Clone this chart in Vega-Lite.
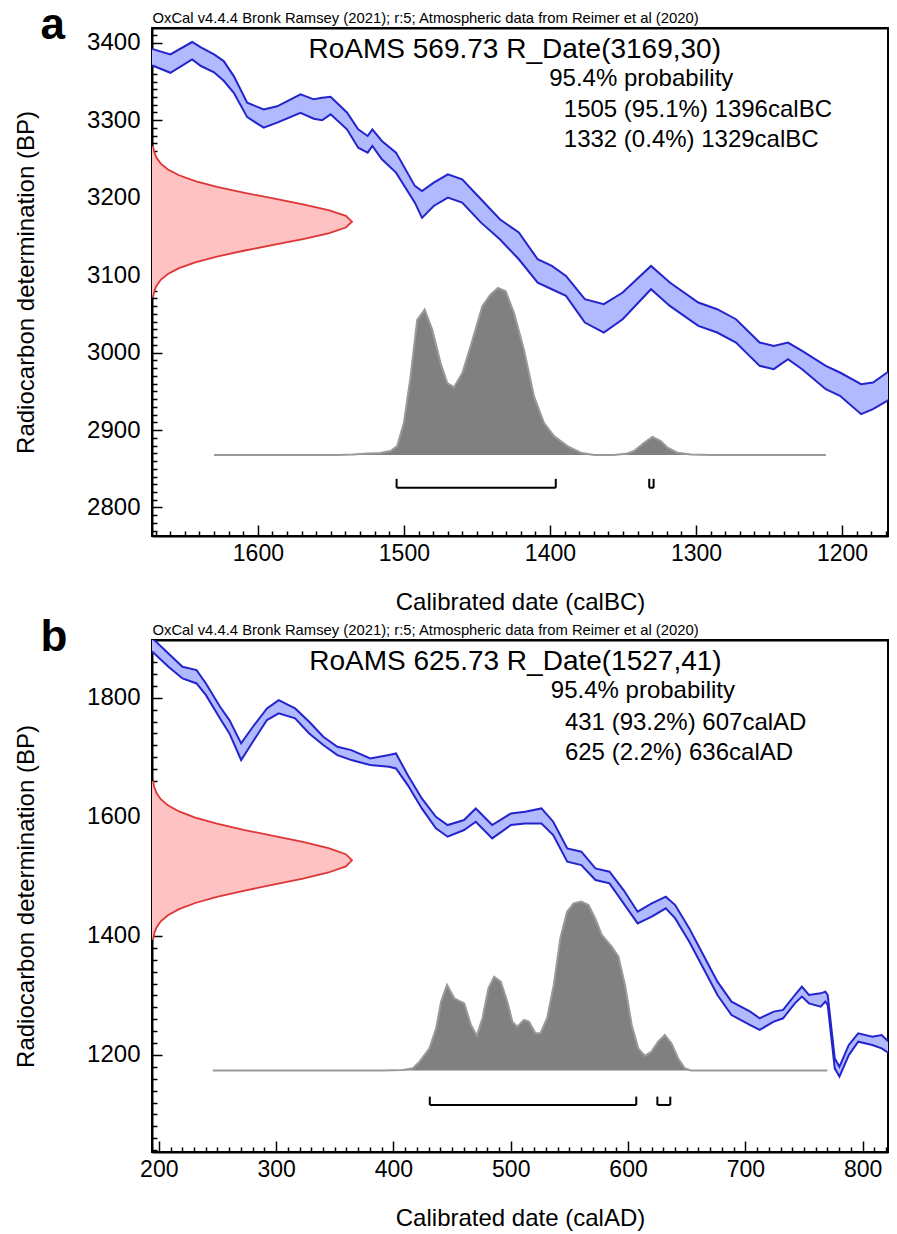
{
  "$schema": "https://vega.github.io/schema/vega-lite/v6.json",
  "background": "white",
  "padding": {"left": 13, "top": 3, "right": 9, "bottom": 2},
  "spacing": 0,
  "config": {"font": "Liberation Sans", "view": {"stroke": "black", "strokeWidth": 2}},
  "datasets": {
    "curveA": [
      {"year": 1673, "hi": 3392, "lo": 3371}, {"year": 1671.3, "hi": 3391.5, "lo": 3370}, {"year": 1659.9, "hi": 3385, "lo": 3361.3},
      {"year": 1645, "hi": 3401, "lo": 3378.6}, {"year": 1639, "hi": 3394, "lo": 3370}, {"year": 1630, "hi": 3385, "lo": 3362},
      {"year": 1623.4, "hi": 3376.4, "lo": 3351}, {"year": 1616.5, "hi": 3357, "lo": 3335.5}, {"year": 1607.3, "hi": 3322.6, "lo": 3304},
      {"year": 1596, "hi": 3314, "lo": 3290.4}, {"year": 1586.8, "hi": 3318, "lo": 3297}, {"year": 1570.8, "hi": 3333.5, "lo": 3309.7},
      {"year": 1561.7, "hi": 3327, "lo": 3302}, {"year": 1556, "hi": 3329, "lo": 3300}, {"year": 1550.2, "hi": 3330.4, "lo": 3307.6},
      {"year": 1539, "hi": 3310, "lo": 3288.3}, {"year": 1531.3, "hi": 3288.3, "lo": 3264.6}, {"year": 1524.8, "hi": 3279.7, "lo": 3258.2},
      {"year": 1521.6, "hi": 3288.3, "lo": 3266.8}, {"year": 1515.1, "hi": 3273.2, "lo": 3249.6}, {"year": 1505.4, "hi": 3258.2, "lo": 3232.4},
      {"year": 1492.5, "hi": 3215.2, "lo": 3193.6}, {"year": 1487.6, "hi": 3208.7, "lo": 3174}, {"year": 1479.6, "hi": 3219.4, "lo": 3189.3},
      {"year": 1469.9, "hi": 3230.2, "lo": 3200.1}, {"year": 1460.1, "hi": 3223.7, "lo": 3193.6}, {"year": 1447.2, "hi": 3198, "lo": 3167.8},
      {"year": 1434.3, "hi": 3172.1, "lo": 3146.3}, {"year": 1421.3, "hi": 3155, "lo": 3120.5}, {"year": 1408.4, "hi": 3120.5, "lo": 3090.4},
      {"year": 1398.7, "hi": 3111.9, "lo": 3081.8}, {"year": 1389, "hi": 3099, "lo": 3073.2}, {"year": 1376.1, "hi": 3068.9, "lo": 3038.8},
      {"year": 1363.1, "hi": 3062.5, "lo": 3025.9}, {"year": 1350.2, "hi": 3077.5, "lo": 3043.1}, {"year": 1330.8, "hi": 3111.9, "lo": 3081.8},
      {"year": 1317.9, "hi": 3090.4, "lo": 3060.3}, {"year": 1298.4, "hi": 3064.6, "lo": 3034.5}, {"year": 1285.5, "hi": 3056, "lo": 3025.9},
      {"year": 1272.6, "hi": 3043.1, "lo": 3013}, {"year": 1256.4, "hi": 3013, "lo": 2982.9}, {"year": 1246.7, "hi": 3008.7, "lo": 2978.6},
      {"year": 1237, "hi": 3013, "lo": 2991.5}, {"year": 1227.3, "hi": 3002.3, "lo": 2978.6}, {"year": 1211.1, "hi": 2982.9, "lo": 2952.8},
      {"year": 1201.4, "hi": 2974.3, "lo": 2944.2}, {"year": 1186.9, "hi": 2959.2, "lo": 2920.5}, {"year": 1178.8, "hi": 2961.4, "lo": 2927},
      {"year": 1169.1, "hi": 2974.3, "lo": 2937.7}, {"year": 1167, "hi": 2977, "lo": 2940}
    ],
    "curveB": [
      {"year": 194, "hi": 1900, "lo": 1878}, {"year": 196.2, "hi": 1896.8, "lo": 1874.4}, {"year": 208.2, "hi": 1874.4, "lo": 1852},
      {"year": 220.2, "hi": 1852, "lo": 1832.4}, {"year": 232.2, "hi": 1846.4, "lo": 1824}, {"year": 240.2, "hi": 1824, "lo": 1804.4},
      {"year": 252.2, "hi": 1784.9, "lo": 1765.3}, {"year": 260.2, "hi": 1762.5, "lo": 1740.1}, {"year": 270.2, "hi": 1723.3, "lo": 1695.4},
      {"year": 280.2, "hi": 1751.3, "lo": 1726.1}, {"year": 292.2, "hi": 1782.1, "lo": 1762.5}, {"year": 302.2, "hi": 1796, "lo": 1773.7},
      {"year": 316.2, "hi": 1782.1, "lo": 1765.3}, {"year": 328.2, "hi": 1759.7, "lo": 1740.1}, {"year": 340.2, "hi": 1734.5, "lo": 1720.5},
      {"year": 352.2, "hi": 1717.7, "lo": 1703.7}, {"year": 364.2, "hi": 1712.1, "lo": 1695.3}, {"year": 380.2, "hi": 1698.1, "lo": 1686.9},
      {"year": 396.2, "hi": 1703.7, "lo": 1684.1}, {"year": 402.2, "hi": 1706.5, "lo": 1681.3}, {"year": 412.2, "hi": 1670.1, "lo": 1653.3},
      {"year": 424.2, "hi": 1630.9, "lo": 1614.1}, {"year": 436.2, "hi": 1600.1, "lo": 1580.6}, {"year": 446.2, "hi": 1586.2, "lo": 1566.6},
      {"year": 460.2, "hi": 1594.6, "lo": 1577.8}, {"year": 470.2, "hi": 1614.1, "lo": 1591.8}, {"year": 484.2, "hi": 1586.2, "lo": 1563.8},
      {"year": 500.2, "hi": 1605.7, "lo": 1586.2}, {"year": 512.2, "hi": 1608.5, "lo": 1588.9}, {"year": 526.2, "hi": 1614.1, "lo": 1588.9},
      {"year": 536.2, "hi": 1591.8, "lo": 1569.4}, {"year": 548.2, "hi": 1547, "lo": 1524.6}, {"year": 560.2, "hi": 1541.4, "lo": 1519},
      {"year": 572.2, "hi": 1513.4, "lo": 1493.8}, {"year": 584.2, "hi": 1507.8, "lo": 1488.2}, {"year": 596.2, "hi": 1477, "lo": 1454.6},
      {"year": 608.2, "hi": 1440.6, "lo": 1421}, {"year": 620.2, "hi": 1454.6, "lo": 1432.2}, {"year": 632.2, "hi": 1465.8, "lo": 1446.2},
      {"year": 640.2, "hi": 1451.8, "lo": 1429.4}, {"year": 652.2, "hi": 1412.6, "lo": 1390.2}, {"year": 664.2, "hi": 1367.9, "lo": 1345.5},
      {"year": 676.2, "hi": 1323.1, "lo": 1300.7}, {"year": 688.2, "hi": 1289.5, "lo": 1267.1}, {"year": 704.2, "hi": 1272.8, "lo": 1250.3},
      {"year": 712.2, "hi": 1261.6, "lo": 1242.1}, {"year": 724.2, "hi": 1272.8, "lo": 1255.9}, {"year": 732.2, "hi": 1275.6, "lo": 1261.6},
      {"year": 742.2, "hi": 1300.7, "lo": 1286.7}, {"year": 748.2, "hi": 1314.7, "lo": 1298}, {"year": 754.2, "hi": 1300.7, "lo": 1286.7},
      {"year": 764.2, "hi": 1303.5, "lo": 1281.1}, {"year": 768.2, "hi": 1306.3, "lo": 1289.5}, {"year": 770.2, "hi": 1300.7, "lo": 1284},
      {"year": 776.2, "hi": 1194.3, "lo": 1177.5}, {"year": 780.2, "hi": 1180.3, "lo": 1163.6}, {"year": 788.2, "hi": 1216.8, "lo": 1199.8},
      {"year": 796.2, "hi": 1236.3, "lo": 1222.3}, {"year": 808.2, "hi": 1230.7, "lo": 1216.8}, {"year": 816.2, "hi": 1233.5, "lo": 1211.1},
      {"year": 822.2, "hi": 1222.3, "lo": 1203.1}
    ],
    "greyA": [
      {"year": 1630, "p": 0}, {"year": 1545, "p": 0}, {"year": 1535, "p": 0.004}, {"year": 1525, "p": 0.01}, {"year": 1516, "p": 0.012},
      {"year": 1509.1, "p": 0.024}, {"year": 1504.6, "p": 0.054}, {"year": 1500, "p": 0.193}, {"year": 1495.4, "p": 0.47},
      {"year": 1490.9, "p": 0.809}, {"year": 1485.8, "p": 0.87}, {"year": 1480.6, "p": 0.75}, {"year": 1474.9, "p": 0.55},
      {"year": 1470.3, "p": 0.43}, {"year": 1465.7, "p": 0.406}, {"year": 1460, "p": 0.49}, {"year": 1454.3, "p": 0.65},
      {"year": 1446.3, "p": 0.89}, {"year": 1440.6, "p": 0.96}, {"year": 1435.6, "p": 1.0}, {"year": 1430.3, "p": 0.98},
      {"year": 1424.6, "p": 0.849}, {"year": 1417.8, "p": 0.63}, {"year": 1410.9, "p": 0.351}, {"year": 1404.1, "p": 0.193},
      {"year": 1397.2, "p": 0.114}, {"year": 1388.1, "p": 0.054}, {"year": 1378.9, "p": 0.014}, {"year": 1369.8, "p": 0},
      {"year": 1356.1, "p": 0}, {"year": 1347, "p": 0.01}, {"year": 1342.4, "p": 0.024}, {"year": 1335.5, "p": 0.074},
      {"year": 1329.8, "p": 0.108}, {"year": 1324.1, "p": 0.084}, {"year": 1319.5, "p": 0.044}, {"year": 1312.7, "p": 0.014},
      {"year": 1303.5, "p": 0.004}, {"year": 1290, "p": 0}, {"year": 1211, "p": 0}
    ],
    "greyB": [
      {"year": 246, "p": 0}, {"year": 391, "p": 0}, {"year": 408.1, "p": 0.004}, {"year": 416.6, "p": 0.014}, {"year": 422.3, "p": 0.053},
      {"year": 430.7, "p": 0.132}, {"year": 436.4, "p": 0.25}, {"year": 440.6, "p": 0.408}, {"year": 445.7, "p": 0.507},
      {"year": 451.9, "p": 0.428}, {"year": 460.4, "p": 0.398}, {"year": 466.1, "p": 0.27}, {"year": 471.1, "p": 0.207},
      {"year": 475.9, "p": 0.31}, {"year": 481, "p": 0.487}, {"year": 485.8, "p": 0.556}, {"year": 491.5, "p": 0.527},
      {"year": 497.1, "p": 0.408}, {"year": 501.4, "p": 0.29}, {"year": 505.6, "p": 0.26}, {"year": 511.3, "p": 0.3},
      {"year": 515.5, "p": 0.29}, {"year": 521.1, "p": 0.221}, {"year": 525.4, "p": 0.221}, {"year": 531, "p": 0.31},
      {"year": 536.7, "p": 0.507}, {"year": 542.3, "p": 0.783}, {"year": 548, "p": 0.94}, {"year": 553.6, "p": 0.99},
      {"year": 560.1, "p": 1.0}, {"year": 566.3, "p": 0.98}, {"year": 572, "p": 0.9}, {"year": 577.6, "p": 0.803},
      {"year": 586.1, "p": 0.734}, {"year": 591.8, "p": 0.675}, {"year": 597.4, "p": 0.507}, {"year": 603.1, "p": 0.27},
      {"year": 608.7, "p": 0.132}, {"year": 614.4, "p": 0.087}, {"year": 620, "p": 0.112}, {"year": 625.7, "p": 0.172},
      {"year": 631.3, "p": 0.211}, {"year": 637, "p": 0.162}, {"year": 642.6, "p": 0.073}, {"year": 648.3, "p": 0.014},
      {"year": 653.9, "p": 0}, {"year": 770, "p": 0}
    ],
    "redA": [
      {"bp": 3266.5, "p": 0.0051}, {"bp": 3259, "p": 0.0111}, {"bp": 3251.5, "p": 0.0228}, {"bp": 3244, "p": 0.0439},
      {"bp": 3236.5, "p": 0.0796}, {"bp": 3229, "p": 0.1353}, {"bp": 3221.5, "p": 0.2163}, {"bp": 3214, "p": 0.3247},
      {"bp": 3206.5, "p": 0.4578}, {"bp": 3199, "p": 0.6065}, {"bp": 3191.5, "p": 0.7548}, {"bp": 3184, "p": 0.8825},
      {"bp": 3176.5, "p": 0.9692}, {"bp": 3169, "p": 1}, {"bp": 3161.5, "p": 0.9692}, {"bp": 3154, "p": 0.8825},
      {"bp": 3146.5, "p": 0.7548}, {"bp": 3139, "p": 0.6065}, {"bp": 3131.5, "p": 0.4578}, {"bp": 3124, "p": 0.3247},
      {"bp": 3116.5, "p": 0.2163}, {"bp": 3109, "p": 0.1353}, {"bp": 3101.5, "p": 0.0796}, {"bp": 3094, "p": 0.0439},
      {"bp": 3086.5, "p": 0.0228}, {"bp": 3079, "p": 0.0111}, {"bp": 3071.5, "p": 0.0051}
    ],
    "redB": [
      {"bp": 1660.25, "p": 0.0051}, {"bp": 1650, "p": 0.0111}, {"bp": 1639.75, "p": 0.0228}, {"bp": 1629.5, "p": 0.0439},
      {"bp": 1619.25, "p": 0.0796}, {"bp": 1609, "p": 0.1353}, {"bp": 1598.75, "p": 0.2163}, {"bp": 1588.5, "p": 0.3247},
      {"bp": 1578.25, "p": 0.4578}, {"bp": 1568, "p": 0.6065}, {"bp": 1557.75, "p": 0.7548}, {"bp": 1547.5, "p": 0.8825},
      {"bp": 1537.25, "p": 0.9692}, {"bp": 1527, "p": 1}, {"bp": 1516.75, "p": 0.9692}, {"bp": 1506.5, "p": 0.8825},
      {"bp": 1496.25, "p": 0.7548}, {"bp": 1486, "p": 0.6065}, {"bp": 1475.75, "p": 0.4578}, {"bp": 1465.5, "p": 0.3247},
      {"bp": 1455.25, "p": 0.2163}, {"bp": 1445, "p": 0.1353}, {"bp": 1434.75, "p": 0.0796}, {"bp": 1424.5, "p": 0.0439},
      {"bp": 1414.25, "p": 0.0228}, {"bp": 1404, "p": 0.0111}, {"bp": 1393.75, "p": 0.0051}
    ],
    "rangesA": [{"from": 1505, "to": 1396}, {"from": 1332, "to": 1329}],
    "rangesB": [{"from": 431, "to": 607}, {"from": 625, "to": 636}],
    "textA": [
      {"kind": "head", "label": "RoAMS 569.73 R_Date(3169,30)", "year": 1565.3, "bp": 3380},
      {"kind": "line", "label": "95.4% probability", "year": 1400.5, "bp": 3344},
      {"kind": "line", "label": "1505 (95.1%) 1396calBC", "year": 1390.5, "bp": 3304.5},
      {"kind": "line", "label": "1332 (0.4%) 1329calBC", "year": 1390.5, "bp": 3266}
    ],
    "textB": [
      {"kind": "head", "label": "RoAMS 625.73 R_Date(1527,41)", "year": 328.2, "bp": 1846.5},
      {"kind": "line", "label": "95.4% probability", "year": 534.2, "bp": 1799.5},
      {"kind": "line", "label": "431 (93.2%) 607calAD", "year": 546.2, "bp": 1745.8},
      {"kind": "line", "label": "625 (2.2%) 636calAD", "year": 546.2, "bp": 1695.4}
    ]
  },
  "vconcat": [
    {
      "width": 736,
      "height": 508,
      "title": {"text": "a", "anchor": "start", "frame": "bounds", "fontSize": 44, "fontWeight": "bold", "color": "black", "baseline": "alphabetic", "offset": -73, "dx": 26},
      "layer": [
        {
          "data": {"name": "curveA"},
          "mark": {"type": "area", "color": "#b1b9ff", "opacity": 1, "clip": true},
          "encoding": {
            "x": {"field": "year", "type": "quantitative", "scale": {"domain": [1168.5, 1672.5], "reverse": true, "nice": false, "zero": false},
              "axis": {"orient": "bottom", "values": [1170,1180,1190,1200,1210,1220,1230,1240,1250,1260,1270,1280,1290,1300,1310,1320,1330,1340,1350,1360,1370,1380,1390,1400,1410,1420,1430,1440,1450,1460,1470,1480,1490,1500,1510,1520,1530,1540,1550,1560,1570,1580,1590,1600,1610,1620,1630,1640,1650,1660,1670],
                "format": "d", "labelExpr": "datum.value % 100 === 0 ? datum.label : ''",
                "tickSize": {"condition": {"test": "datum.value % 100 === 0", "value": -11}, "value": -5},
                "tickColor": "black", "tickWidth": 1.5, "domainColor": "black", "domainWidth": 2,
                "labelFontSize": 23, "labelColor": "black", "labelPadding": 17, "labelOverlap": false, "labelFlush": false,
                "title": "Calibrated date (calBC)", "titleFontSize": 24, "titleFontWeight": "normal", "titleColor": "black", "titlePadding": 19, "grid": false}},
            "y": {"field": "lo", "type": "quantitative", "scale": {"domain": [2763.2, 3419.1], "nice": false, "zero": false},
              "axis": {"orient": "left", "values": [2770,2780,2790,2800,2810,2820,2830,2840,2850,2860,2870,2880,2890,2900,2910,2920,2930,2940,2950,2960,2970,2980,2990,3000,3010,3020,3030,3040,3050,3060,3070,3080,3090,3100,3110,3120,3130,3140,3150,3160,3170,3180,3190,3200,3210,3220,3230,3240,3250,3260,3270,3280,3290,3300,3310,3320,3330,3340,3350,3360,3370,3380,3390,3400,3410],
                "format": "d", "labelExpr": "datum.value % 100 === 0 ? datum.label : ''",
                "tickSize": {"condition": {"test": "datum.value % 100 === 0", "value": -10}, "value": -5},
                "tickColor": "black", "tickWidth": 1.5, "domainColor": "black", "domainWidth": 2,
                "labelFontSize": 24, "labelColor": "black", "labelPadding": 22, "labelOverlap": false,
                "title": "Radiocarbon determination (BP)", "titleFontSize": 24, "titleFontWeight": "normal", "titleColor": "black", "titlePadding": 48, "grid": false}},
            "y2": {"field": "hi"}
          }
        },
        {
          "data": {"name": "curveA"},
          "mark": {"type": "line", "color": "#2424cc", "strokeWidth": 2, "clip": true},
          "encoding": {
            "x": {"field": "year", "type": "quantitative", "scale": {"domain": [1168.5, 1672.5], "reverse": true, "nice": false, "zero": false},
              "axis": {"orient": "top", "ticks": false, "labels": false, "domain": true, "domainColor": "black", "domainWidth": 2,
                "title": "OxCal v4.4.4 Bronk Ramsey (2021); r:5; Atmospheric data from Reimer et al (2020)",
                "titleAnchor": "end", "titleAlign": "left", "titleFontSize": 14.8, "titleFontWeight": "normal", "titleColor": "black", "titlePadding": 3, "grid": false}},
            "y": {"field": "hi", "type": "quantitative", "scale": {"domain": [2763.2, 3419.1], "nice": false, "zero": false}, "axis": null}
          }
        },
        {
          "data": {"name": "curveA"},
          "mark": {"type": "line", "color": "#2424cc", "strokeWidth": 2, "clip": true},
          "encoding": {
            "x": {"field": "year", "type": "quantitative", "scale": {"domain": [1168.5, 1672.5], "reverse": true, "nice": false, "zero": false}, "axis": null},
            "y": {"field": "lo", "type": "quantitative", "scale": {"domain": [2763.2, 3419.1], "nice": false, "zero": false}, "axis": null}
          }
        },
        {
          "data": {"name": "rangesA"},
          "mark": {"type": "rule", "color": "black", "strokeWidth": 2},
          "encoding": {
            "x": {"field": "from", "type": "quantitative", "scale": {"domain": [1168.5, 1672.5], "reverse": true, "nice": false, "zero": false}, "axis": null},
            "x2": {"field": "to"},
            "y": {"datum": 2825.5, "type": "quantitative", "scale": {"domain": [2763.2, 3419.1], "nice": false, "zero": false}, "axis": null}
          }
        },
        {
          "data": {"name": "rangesA"},
          "mark": {"type": "rule", "color": "black", "strokeWidth": 2},
          "encoding": {
            "x": {"field": "from", "type": "quantitative", "scale": {"domain": [1168.5, 1672.5], "reverse": true, "nice": false, "zero": false}, "axis": null},
            "y": {"datum": 2825.5, "type": "quantitative", "scale": {"domain": [2763.2, 3419.1], "nice": false, "zero": false}, "axis": null},
            "y2": {"datum": 2837}
          }
        },
        {
          "data": {"name": "rangesA"},
          "mark": {"type": "rule", "color": "black", "strokeWidth": 2},
          "encoding": {
            "x": {"field": "to", "type": "quantitative", "scale": {"domain": [1168.5, 1672.5], "reverse": true, "nice": false, "zero": false}, "axis": null},
            "y": {"datum": 2825.5, "type": "quantitative", "scale": {"domain": [2763.2, 3419.1], "nice": false, "zero": false}, "axis": null},
            "y2": {"datum": 2837}
          }
        },
        {
          "data": {"name": "textA"},
          "transform": [{"filter": "datum.kind === 'head'"}],
          "mark": {"type": "text", "align": "left", "baseline": "alphabetic", "fontSize": 28, "color": "black"},
          "encoding": {
            "x": {"field": "year", "type": "quantitative", "scale": {"domain": [1168.5, 1672.5], "reverse": true, "nice": false, "zero": false}, "axis": null},
            "y": {"field": "bp", "type": "quantitative", "scale": {"domain": [2763.2, 3419.1], "nice": false, "zero": false}, "axis": null},
            "text": {"field": "label"}
          }
        },
        {
          "data": {"name": "textA"},
          "transform": [{"filter": "datum.kind === 'line'"}],
          "mark": {"type": "text", "align": "left", "baseline": "alphabetic", "fontSize": 24, "color": "black"},
          "encoding": {
            "x": {"field": "year", "type": "quantitative", "scale": {"domain": [1168.5, 1672.5], "reverse": true, "nice": false, "zero": false}, "axis": null},
            "y": {"field": "bp", "type": "quantitative", "scale": {"domain": [2763.2, 3419.1], "nice": false, "zero": false}, "axis": null},
            "text": {"field": "label"}
          }
        },
        {
          "data": {"name": "redA"},
          "mark": {"type": "area", "orient": "horizontal", "color": "#ffc2c2", "opacity": 1, "clip": true},
          "encoding": {
            "y": {"field": "bp", "type": "quantitative", "scale": {"domain": [2763.2, 3419.1], "nice": false, "zero": false}, "axis": null},
            "x": {"field": "p", "type": "quantitative", "scale": {"domain": [0, 3.68], "nice": false, "zero": false}, "axis": null},
            "x2": {"datum": 0}
          }
        },
        {
          "data": {"name": "redA"},
          "mark": {"type": "line", "color": "#de3535", "strokeWidth": 1.8, "clip": true},
          "encoding": {
            "y": {"field": "bp", "type": "quantitative", "scale": {"domain": [2763.2, 3419.1], "nice": false, "zero": false}, "axis": null},
            "x": {"field": "p", "type": "quantitative", "scale": {"domain": [0, 3.68], "nice": false, "zero": false}, "axis": null},
            "order": {"field": "bp", "type": "quantitative"}
          }
        },
        {
          "data": {"name": "greyA"},
          "mark": {"type": "area", "color": "#808080", "opacity": 1, "line": {"color": "#9a9a9a", "strokeWidth": 2}, "clip": true},
          "encoding": {
            "x": {"field": "year", "type": "quantitative", "scale": {"domain": [1168.5, 1672.5], "reverse": true, "nice": false, "zero": false}, "axis": null},
            "y": {"field": "p", "type": "quantitative", "scale": {"domain": [-0.4839, 2.5538], "nice": false, "zero": false}, "axis": null},
            "y2": {"datum": 0}
          }
        }
      ],
      "resolve": {"scale": {"x": "independent", "y": "independent"}}
    },
    {
      "width": 736,
      "height": 512,
      "title": {"text": "b", "anchor": "start", "frame": "bounds", "fontSize": 44, "fontWeight": "bold", "color": "black", "baseline": "alphabetic", "offset": -73, "dx": 26},
      "layer": [
        {
          "data": {"name": "curveB"},
          "mark": {"type": "area", "color": "#b1b9ff", "opacity": 1, "clip": true},
          "encoding": {
            "x": {"field": "year", "type": "quantitative", "scale": {"domain": [194.2, 821.6], "nice": false, "zero": false},
              "axis": {"orient": "bottom", "values": [200,210,220,230,240,250,260,270,280,290,300,310,320,330,340,350,360,370,380,390,400,410,420,430,440,450,460,470,480,490,500,510,520,530,540,550,560,570,580,590,600,610,620,630,640,650,660,670,680,690,700,710,720,730,740,750,760,770,780,790,800,810,820],
                "format": "d", "labelExpr": "datum.value % 100 === 0 ? datum.label : ''",
                "tickSize": {"condition": {"test": "datum.value % 100 === 0", "value": -11}, "value": -5},
                "tickColor": "black", "tickWidth": 1.5, "domainColor": "black", "domainWidth": 2,
                "labelFontSize": 23, "labelColor": "black", "labelPadding": 17, "labelOverlap": false, "labelFlush": false,
                "title": "Calibrated date (calAD)", "titleFontSize": 24, "titleFontWeight": "normal", "titleColor": "black", "titlePadding": 19, "grid": false}},
            "y": {"field": "lo", "type": "quantitative", "scale": {"domain": [1037, 1897], "nice": false, "zero": false},
              "axis": {"orient": "left", "values": [1040,1060,1080,1100,1120,1140,1160,1180,1200,1220,1240,1260,1280,1300,1320,1340,1360,1380,1400,1420,1440,1460,1480,1500,1520,1540,1560,1580,1600,1620,1640,1660,1680,1700,1720,1740,1760,1780,1800,1820,1840,1860,1880],
                "format": "d", "labelExpr": "datum.value % 200 === 0 ? datum.label : ''",
                "tickSize": {"condition": {"test": "datum.value % 200 === 0", "value": -10}, "value": -5},
                "tickColor": "black", "tickWidth": 1.5, "domainColor": "black", "domainWidth": 2,
                "labelFontSize": 24, "labelColor": "black", "labelPadding": 22, "labelOverlap": false,
                "title": "Radiocarbon determination (BP)", "titleFontSize": 24, "titleFontWeight": "normal", "titleColor": "black", "titlePadding": 48, "grid": false}},
            "y2": {"field": "hi"}
          }
        },
        {
          "data": {"name": "curveB"},
          "mark": {"type": "line", "color": "#2424cc", "strokeWidth": 2, "clip": true},
          "encoding": {
            "x": {"field": "year", "type": "quantitative", "scale": {"domain": [194.2, 821.6], "nice": false, "zero": false},
              "axis": {"orient": "top", "ticks": false, "labels": false, "domain": true, "domainColor": "black", "domainWidth": 2,
                "title": "OxCal v4.4.4 Bronk Ramsey (2021); r:5; Atmospheric data from Reimer et al (2020)",
                "titleAnchor": "start", "titleAlign": "left", "titleFontSize": 14.8, "titleFontWeight": "normal", "titleColor": "black", "titlePadding": 3, "grid": false}},
            "y": {"field": "hi", "type": "quantitative", "scale": {"domain": [1037, 1897], "nice": false, "zero": false}, "axis": null}
          }
        },
        {
          "data": {"name": "curveB"},
          "mark": {"type": "line", "color": "#2424cc", "strokeWidth": 2, "clip": true},
          "encoding": {
            "x": {"field": "year", "type": "quantitative", "scale": {"domain": [194.2, 821.6], "nice": false, "zero": false}, "axis": null},
            "y": {"field": "lo", "type": "quantitative", "scale": {"domain": [1037, 1897], "nice": false, "zero": false}, "axis": null}
          }
        },
        {
          "data": {"name": "rangesB"},
          "mark": {"type": "rule", "color": "black", "strokeWidth": 2},
          "encoding": {
            "x": {"field": "from", "type": "quantitative", "scale": {"domain": [194.2, 821.6], "nice": false, "zero": false}, "axis": null},
            "x2": {"field": "to"},
            "y": {"datum": 1116, "type": "quantitative", "scale": {"domain": [1037, 1897], "nice": false, "zero": false}, "axis": null}
          }
        },
        {
          "data": {"name": "rangesB"},
          "mark": {"type": "rule", "color": "black", "strokeWidth": 2},
          "encoding": {
            "x": {"field": "from", "type": "quantitative", "scale": {"domain": [194.2, 821.6], "nice": false, "zero": false}, "axis": null},
            "y": {"datum": 1116, "type": "quantitative", "scale": {"domain": [1037, 1897], "nice": false, "zero": false}, "axis": null},
            "y2": {"datum": 1130}
          }
        },
        {
          "data": {"name": "rangesB"},
          "mark": {"type": "rule", "color": "black", "strokeWidth": 2},
          "encoding": {
            "x": {"field": "to", "type": "quantitative", "scale": {"domain": [194.2, 821.6], "nice": false, "zero": false}, "axis": null},
            "y": {"datum": 1116, "type": "quantitative", "scale": {"domain": [1037, 1897], "nice": false, "zero": false}, "axis": null},
            "y2": {"datum": 1130}
          }
        },
        {
          "data": {"name": "textB"},
          "transform": [{"filter": "datum.kind === 'head'"}],
          "mark": {"type": "text", "align": "left", "baseline": "alphabetic", "fontSize": 28, "color": "black"},
          "encoding": {
            "x": {"field": "year", "type": "quantitative", "scale": {"domain": [194.2, 821.6], "nice": false, "zero": false}, "axis": null},
            "y": {"field": "bp", "type": "quantitative", "scale": {"domain": [1037, 1897], "nice": false, "zero": false}, "axis": null},
            "text": {"field": "label"}
          }
        },
        {
          "data": {"name": "textB"},
          "transform": [{"filter": "datum.kind === 'line'"}],
          "mark": {"type": "text", "align": "left", "baseline": "alphabetic", "fontSize": 24, "color": "black"},
          "encoding": {
            "x": {"field": "year", "type": "quantitative", "scale": {"domain": [194.2, 821.6], "nice": false, "zero": false}, "axis": null},
            "y": {"field": "bp", "type": "quantitative", "scale": {"domain": [1037, 1897], "nice": false, "zero": false}, "axis": null},
            "text": {"field": "label"}
          }
        },
        {
          "data": {"name": "redB"},
          "mark": {"type": "area", "orient": "horizontal", "color": "#ffc2c2", "opacity": 1, "clip": true},
          "encoding": {
            "y": {"field": "bp", "type": "quantitative", "scale": {"domain": [1037, 1897], "nice": false, "zero": false}, "axis": null},
            "x": {"field": "p", "type": "quantitative", "scale": {"domain": [0, 3.68], "nice": false, "zero": false}, "axis": null},
            "x2": {"datum": 0}
          }
        },
        {
          "data": {"name": "redB"},
          "mark": {"type": "line", "color": "#de3535", "strokeWidth": 1.8, "clip": true},
          "encoding": {
            "y": {"field": "bp", "type": "quantitative", "scale": {"domain": [1037, 1897], "nice": false, "zero": false}, "axis": null},
            "x": {"field": "p", "type": "quantitative", "scale": {"domain": [0, 3.68], "nice": false, "zero": false}, "axis": null},
            "order": {"field": "bp", "type": "quantitative"}
          }
        },
        {
          "data": {"name": "greyB"},
          "mark": {"type": "area", "color": "#808080", "opacity": 1, "line": {"color": "#9a9a9a", "strokeWidth": 2}, "clip": true},
          "encoding": {
            "x": {"field": "year", "type": "quantitative", "scale": {"domain": [194.2, 821.6], "nice": false, "zero": false}, "axis": null},
            "y": {"field": "p", "type": "quantitative", "scale": {"domain": [-0.4818, 2.5485], "nice": false, "zero": false}, "axis": null},
            "y2": {"datum": 0}
          }
        }
      ],
      "resolve": {"scale": {"x": "independent", "y": "independent"}}
    }
  ]
}
